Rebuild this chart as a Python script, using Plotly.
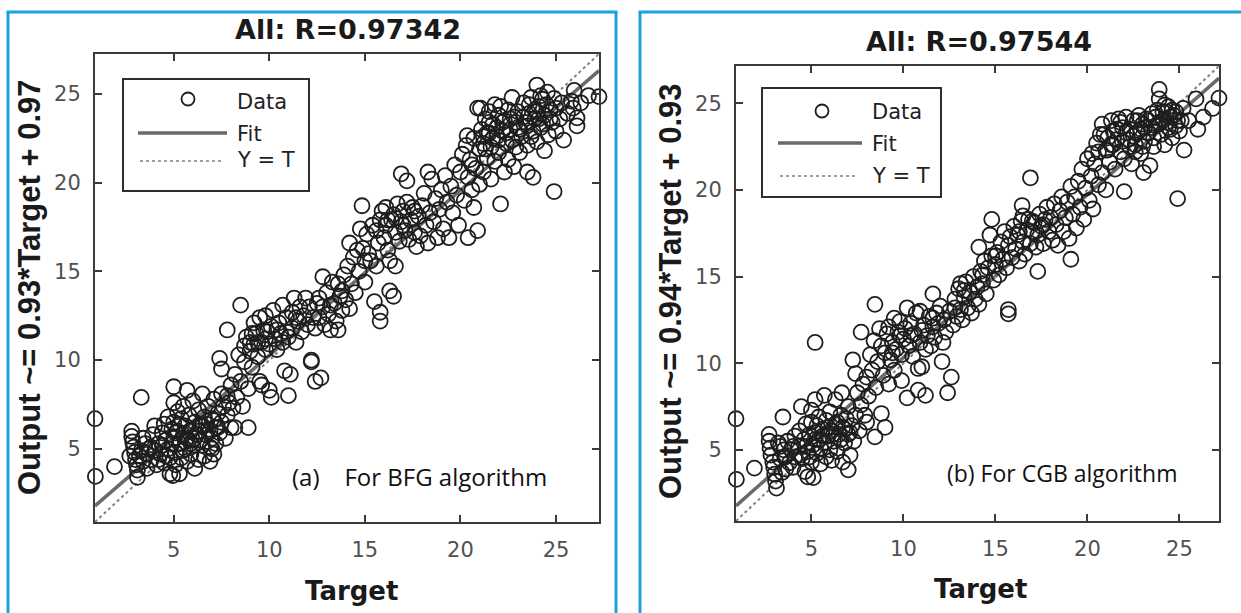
import plotly.graph_objects as go

W, H = 1241, 613

# ---------------- data ----------------
# Panel (a): BFG algorithm, (Target, Output) pairs
pairs_a = [
    (0.88, 6.7), (0.9, 3.45), (1.9, 4.0),
    (2.8, 6.0), (2.8, 5.7), (2.85, 5.4), (2.9, 5.1), (2.95, 4.8), (3.0, 4.4), (3.05, 4.1), (3.1, 3.8),
    (3.1, 3.4), (2.7, 4.6), (3.3, 7.9), (3.3, 4.9), (3.4, 4.3), (3.5, 5.3), (3.6, 4.7), (3.6, 3.9),
    (3.7, 5.0), (3.8, 4.4), (3.9, 5.8), (4.0, 6.3), (4.0, 4.9), (4.1, 4.1), (3.4, 5.6), (3.2, 4.6),
    (3.8, 5.1), (4.2, 4.4),
    (4.2, 5.3), (4.3, 4.7), (4.4, 5.9), (4.5, 6.4), (4.5, 4.2), (4.6, 5.5), (4.7, 6.8), (4.7, 5.0),
    (4.8, 3.6), (4.8, 4.5), (4.9, 6.1), (4.95, 3.5), (5.0, 8.5), (5.0, 7.6), (5.0, 6.5), (5.0, 5.6),
    (5.1, 4.8), (5.1, 4.1), (5.2, 7.1), (5.2, 6.0), (5.3, 5.3), (5.3, 3.6), (5.4, 6.7), (5.4, 4.5),
    (5.5, 7.4), (5.5, 5.8), (5.6, 5.0), (5.6, 6.3), (5.7, 8.3), (5.7, 4.3), (5.8, 5.5), (5.8, 6.9),
    (5.9, 6.0), (5.9, 4.7), (6.0, 7.7), (6.0, 5.2), (6.1, 6.5), (6.1, 3.9),
    (4.4, 5.2), (4.6, 4.6), (4.9, 5.3), (5.1, 5.9), (5.3, 6.4), (5.5, 4.9), (5.7, 5.6), (5.9, 5.3),
    (6.1, 5.6), (5.6, 5.4),
    (6.2, 5.8), (6.3, 7.2), (6.3, 4.4), (6.4, 6.3), (6.5, 8.1), (6.5, 5.2), (6.6, 6.8), (6.6, 4.6),
    (6.7, 5.8), (6.8, 7.4), (6.8, 6.1), (6.9, 5.1), (6.9, 4.3), (7.0, 6.7), (7.0, 5.6), (7.1, 7.8),
    (7.1, 4.7), (7.2, 6.2), (7.2, 5.3), (7.3, 7.0), (7.4, 10.1), (7.4, 5.9), (7.5, 9.5), (7.5, 8.1),
    (7.5, 6.5), (7.6, 7.4), (7.7, 5.6), (7.8, 11.7), (7.8, 8.0), (7.8, 6.9), (7.9, 7.6), (8.0, 8.6),
    (8.0, 6.2), (8.1, 7.3), (8.2, 9.2), (8.2, 6.2),
    (6.3, 6.0), (6.5, 6.3), (6.7, 6.4), (6.9, 6.0), (7.1, 6.6), (7.3, 6.2), (7.0, 5.0), (6.4, 5.5),
    (8.3, 7.9), (8.4, 10.3), (8.5, 13.1), (8.5, 8.8), (8.6, 7.4), (8.7, 10.8), (8.7, 9.9), (8.8, 11.3),
    (8.9, 6.2), (8.9, 8.4), (9.0, 10.5), (9.1, 11.5), (9.1, 9.6), (9.2, 12.1), (9.2, 10.9), (9.3, 11.5),
    (9.4, 10.2), (9.5, 12.4), (9.5, 8.8), (9.6, 8.6), (9.6, 11.0), (9.7, 11.7), (9.8, 10.6), (9.8, 12.5),
    (9.9, 11.6), (10.0, 10.9), (10.0, 8.3), (10.1, 11.9), (10.1, 7.9),
    (9.0, 11.0), (9.4, 11.0), (9.8, 11.2),
    (10.2, 12.8), (10.3, 11.2), (10.4, 10.6), (10.5, 12.1), (10.6, 11.5), (10.7, 13.1), (10.7, 11.0),
    (10.8, 9.4), (10.9, 12.4), (11.0, 8.0), (11.0, 11.3), (11.1, 9.2), (11.2, 11.8), (11.2, 12.7),
    (11.3, 13.5), (11.4, 11.0), (11.5, 12.2), (11.6, 13.0), (11.7, 11.6), (11.8, 12.5), (11.9, 13.5),
    (12.0, 12.0), (12.1, 13.0), (12.2, 10.0), (12.2, 9.9), (12.3, 12.4), (12.4, 8.8), (12.4, 11.8),
    (12.5, 13.2), (10.4, 11.7), (10.9, 11.6), (11.4, 12.4),
    (12.6, 12.4), (12.7, 9.0), (12.8, 14.7), (12.8, 13.0), (12.9, 12.0), (13.0, 13.8), (13.1, 12.6),
    (13.2, 11.7), (13.3, 14.4), (13.4, 13.2), (13.5, 12.2), (13.6, 14.3), (13.6, 11.7), (13.7, 13.6),
    (13.8, 12.8), (13.9, 14.8), (14.0, 13.4), (14.1, 15.3), (14.2, 16.6), (14.2, 12.9), (14.3, 14.3),
    (14.4, 15.8), (14.5, 13.8), (14.6, 16.2), (14.7, 15.0), (14.76, 17.4), (14.85, 18.7), (14.9, 16.3),
    (15.0, 14.4), (15.0, 15.6), (12.6, 13.5), (13.2, 13.1), (13.8, 13.9),
    (15.1, 17.1), (15.2, 16.0), (15.3, 15.6), (15.4, 17.6), (15.5, 13.3), (15.6, 15.3), (15.7, 16.6),
    (15.8, 12.7), (15.8, 12.2), (15.8, 17.9), (15.9, 18.4), (16.0, 16.9), (16.1, 17.6), (16.1, 18.6),
    (16.2, 16.2), (16.3, 15.6), (16.3, 13.9), (16.4, 17.9), (16.5, 13.6), (16.5, 18.2), (16.6, 15.3),
    (16.6, 17.2), (16.7, 18.8), (16.8, 16.7), (16.9, 20.5), (16.9, 17.8), (17.0, 18.4),
    (15.6, 17.3), (16.2, 17.9), (16.6, 18.0), (17.0, 17.6),
    (17.1, 17.3), (17.2, 18.9), (17.2, 20.1), (17.3, 16.8), (17.4, 17.9), (17.5, 18.6), (17.6, 17.2),
    (17.7, 16.4), (17.8, 18.1), (17.9, 17.0), (18.0, 18.7), (18.1, 19.4), (18.2, 17.6), (18.3, 20.6),
    (18.3, 16.6), (18.4, 18.3), (18.5, 20.2), (18.6, 17.8), (18.7, 19.1), (18.8, 16.9), (18.9, 18.5),
    (19.0, 19.6), (19.1, 17.4), (19.2, 20.4), (19.3, 18.9), (17.6, 18.4),
    (19.4, 16.9), (19.5, 19.8), (19.6, 18.3), (19.7, 21.0), (19.8, 19.3), (19.9, 17.6), (20.0, 20.6),
    (20.1, 21.6), (20.2, 19.0), (20.3, 22.1), (20.35, 22.65), (20.4, 16.9), (20.4, 20.3), (20.5, 21.3),
    (20.6, 19.6), (20.7, 18.6), (20.7, 22.5), (20.8, 20.8), (20.9, 17.3), (20.9, 24.2), (21.0, 21.9),
    (21.05, 24.2), (21.0, 19.9), (20.6, 21.0),
    (21.1, 23.0), (21.2, 22.2), (21.2, 20.6), (21.3, 23.6), (21.4, 21.4), (21.5, 22.8), (21.5, 24.0),
    (21.6, 20.2), (21.6, 22.0), (21.7, 23.3), (21.8, 21.2), (21.8, 24.4), (21.9, 22.6), (22.0, 23.8),
    (22.0, 21.7), (22.1, 18.8), (22.1, 24.3), (22.2, 22.9), (22.3, 20.6), (22.3, 23.5), (22.4, 22.2),
    (22.5, 24.1), (22.5, 21.3), (22.6, 23.0), (22.7, 22.4), (22.8, 23.7), (22.8, 20.9), (22.9, 22.0),
    (23.0, 24.0), (23.0, 23.1),
    (21.2, 22.6), (21.4, 22.8), (21.7, 22.5), (21.9, 23.1), (22.2, 23.4), (22.4, 22.8), (22.6, 23.6),
    (22.9, 23.4), (22.0, 22.4), (21.3, 21.9), (22.7, 24.8), (21.5, 23.4),
    (23.1, 21.7), (23.2, 22.6), (23.3, 24.5), (23.4, 23.4), (23.5, 20.6), (23.5, 22.1), (23.6, 23.9),
    (23.7, 24.8), (23.8, 20.3), (23.8, 22.9), (23.9, 23.6), (24.0, 25.5), (24.0, 22.3), (24.1, 24.3),
    (24.2, 23.1), (24.3, 24.7), (24.4, 21.8), (24.4, 23.8), (24.55, 25.1), (24.6, 22.7), (24.7, 24.1),
    (24.8, 23.4), (24.9, 24.75), (24.9, 19.5), (25.0, 22.9), (25.0, 24.2),
    (23.1, 23.0), (23.3, 23.7), (23.5, 23.2), (23.7, 22.6), (23.9, 24.1), (24.1, 23.6), (24.3, 23.3),
    (24.5, 24.4), (24.7, 23.6), (23.6, 24.4), (24.2, 24.9), (24.0, 24.0),
    (25.2, 23.6), (25.3, 24.5), (25.4, 22.4), (25.6, 23.9), (25.8, 24.6), (25.9, 24.2), (25.95, 25.2),
    (26.1, 23.65), (26.1, 23.2), (26.3, 24.5), (26.7, 24.9), (27.25, 24.85),
]

# Panel (b): CGB algorithm, (Target, Output) pairs
pairs_b = [
    (0.9, 6.8), (0.92, 3.3), (1.9, 3.95),
    (2.7, 5.9), (2.7, 5.5), (2.75, 5.1), (2.8, 4.7), (2.9, 4.3), (2.95, 4.0), (3.0, 3.6), (3.05, 3.2),
    (3.1, 2.8), (3.2, 5.4), (3.3, 4.5), (3.45, 6.9), (3.5, 5.0), (3.55, 4.6), (3.6, 3.9), (3.7, 5.5),
    (3.8, 4.25), (3.9, 5.0), (4.0, 4.0), (4.1, 5.8), (4.1, 4.6), (3.4, 3.7), (3.6, 4.6), (3.3, 5.2),
    (4.3, 5.2), (4.35, 6.1), (4.45, 7.5), (4.5, 4.5), (4.6, 5.6), (4.65, 3.75), (4.7, 6.5), (4.8, 3.45),
    (4.8, 4.9), (4.9, 5.9), (5.0, 7.3), (5.0, 6.6), (5.0, 4.3), (5.1, 3.4), (5.1, 5.3), (5.2, 11.2),
    (5.2, 7.9), (5.2, 6.0), (5.3, 4.8), (5.4, 5.6), (5.4, 6.9), (5.5, 4.2), (5.5, 5.1), (5.6, 6.2),
    (5.7, 8.15), (5.7, 5.4), (5.8, 4.6), (5.8, 6.7), (5.9, 5.8), (6.0, 5.0), (6.0, 7.2), (6.1, 6.1),
    (6.1, 4.4),
    (4.0, 5.2), (4.4, 4.7), (4.7, 5.2), (4.9, 4.6), (5.2, 5.6), (5.3, 6.4), (5.6, 5.8), (5.9, 6.3),
    (6.2, 5.5), (6.3, 7.9), (6.3, 6.5), (6.4, 4.9), (6.5, 5.9), (6.6, 7.0), (6.65, 8.3), (6.7, 6.3),
    (6.7, 4.3), (6.8, 5.4), (6.9, 6.8), (7.0, 3.85), (7.0, 5.9), (7.0, 7.5), (7.1, 4.7), (7.2, 6.4),
    (7.25, 10.2), (7.3, 5.5), (7.4, 9.4), (7.4, 7.0), (7.5, 8.3), (7.6, 6.1), (7.7, 11.8), (7.7, 7.6),
    (7.8, 8.8), (7.9, 7.0), (8.0, 9.2), (8.0, 6.6), (8.1, 8.1), (8.2, 10.5),
    (6.2, 5.9), (6.4, 6.6), (6.6, 5.6), (6.8, 6.2), (7.1, 6.0),
    (8.3, 9.6), (8.4, 11.3), (8.45, 13.4), (8.45, 5.75), (8.5, 8.6), (8.6, 10.1), (8.7, 12.0),
    (8.8, 7.1), (8.8, 11.0), (8.9, 9.3), (9.0, 6.3), (9.0, 10.6), (9.1, 11.7), (9.2, 12.1), (9.2, 8.8),
    (9.3, 10.2), (9.4, 11.2), (9.5, 12.6), (9.5, 9.6), (9.6, 10.8), (9.7, 11.8), (9.8, 12.4),
    (9.9, 9.0), (9.9, 10.5), (10.0, 11.4), (10.1, 12.0), (10.2, 8.0), (10.2, 13.2),
    (9.4, 10.6), (9.8, 11.6),
    (10.3, 11.0), (10.4, 12.3), (10.5, 10.4), (10.6, 11.7), (10.7, 12.9), (10.8, 8.45), (10.8, 9.7),
    (10.9, 11.2), (10.9, 13.0), (11.0, 9.8), (11.1, 12.2), (11.2, 8.15), (11.2, 10.8), (11.3, 11.6),
    (11.4, 12.7), (11.5, 11.0), (11.6, 14.0), (11.6, 12.1), (11.7, 11.5), (11.8, 12.9), (11.9, 12.3),
    (12.0, 13.3), (12.1, 10.1), (12.15, 11.2), (12.2, 12.5), (12.3, 11.8), (12.4, 8.3), (12.5, 13.0),
    (10.4, 11.6), (11.0, 11.9), (11.6, 12.6),
    (12.6, 9.2), (12.7, 12.2), (12.8, 13.7), (12.9, 12.7), (13.0, 14.3), (13.1, 14.6), (13.1, 13.1),
    (13.2, 12.5), (13.3, 13.8), (13.4, 14.7), (13.5, 13.2), (13.6, 14.1), (13.7, 12.9), (13.8, 15.0),
    (13.9, 13.7), (14.0, 14.4), (14.1, 16.7), (14.1, 13.4), (14.2, 15.3), (14.3, 14.6), (14.4, 15.9),
    (14.5, 14.0), (14.6, 15.5), (14.7, 17.4), (14.8, 18.3), (14.8, 16.2), (14.9, 14.8), (15.0, 15.7),
    (12.8, 13.2), (13.3, 14.2), (14.3, 15.1), (15.0, 16.2),
    (15.1, 16.4), (15.2, 15.1), (15.3, 17.0), (15.4, 16.0), (15.5, 17.6), (15.6, 15.5), (15.7, 13.1),
    (15.7, 12.85), (15.7, 16.8), (15.8, 17.3), (15.9, 16.1), (16.0, 17.9), (16.1, 16.6), (16.2, 17.4),
    (16.3, 15.9), (16.4, 18.2), (16.45, 19.1), (16.5, 18.5), (16.5, 17.0), (16.6, 16.3), (16.7, 17.7),
    (16.8, 18.3), (16.9, 20.7), (16.9, 16.9), (17.0, 17.6), (16.3, 17.6), (17.0, 18.2),
    (17.1, 18.1), (17.2, 16.7), (17.3, 15.3), (17.3, 17.4), (17.4, 18.6), (17.5, 17.9), (17.6, 16.9),
    (17.7, 18.3), (17.8, 19.0), (17.9, 17.6), (18.0, 18.4), (18.1, 17.1), (18.2, 19.2), (18.3, 18.0),
    (18.4, 16.8), (18.5, 18.8), (18.6, 19.6), (18.7, 17.6), (18.8, 18.4), (18.9, 19.3), (19.0, 17.2),
    (19.1, 16.0), (19.1, 20.2), (17.6, 18.0),
    (19.2, 18.6), (19.3, 19.6), (19.4, 17.8), (19.5, 20.5), (19.6, 19.0), (19.7, 21.2), (19.8, 18.3),
    (19.9, 20.1), (20.0, 21.8), (20.1, 19.4), (20.2, 20.8), (20.25, 22.1), (20.3, 18.9), (20.4, 21.5),
    (20.5, 22.7), (20.6, 20.3), (20.7, 23.2), (20.8, 23.8), (20.8, 21.0), (20.9, 23.2), (21.0, 22.3),
    (21.0, 20.0), (20.6, 22.2),
    (21.1, 23.0), (21.2, 21.6), (21.3, 22.6), (21.3, 24.0), (21.4, 23.4), (21.5, 21.2), (21.6, 22.9),
    (21.7, 24.1), (21.8, 22.2), (21.9, 23.6), (22.0, 19.9), (22.0, 21.8), (22.1, 24.2), (22.2, 22.9),
    (22.3, 23.5), (22.4, 21.5), (22.5, 24.0), (22.6, 22.6), (22.7, 23.3), (22.8, 24.3), (22.9, 22.1),
    (23.0, 23.8), (23.05, 21.0),
    (21.1, 22.3), (21.4, 22.6), (21.6, 23.5), (21.9, 22.8), (22.1, 23.3), (22.3, 22.5), (22.5, 23.1),
    (22.7, 24.0), (22.9, 23.5), (22.6, 22.2), (21.8, 23.9), (23.0, 22.5),
    (23.1, 22.8), (23.2, 24.1), (23.3, 23.3), (23.4, 21.4), (23.5, 24.4), (23.6, 22.5), (23.7, 23.7),
    (23.8, 24.6), (23.9, 25.8), (23.9, 25.25), (24.0, 23.2), (24.1, 24.0), (24.2, 22.6), (24.3, 24.5),
    (24.4, 23.6), (24.5, 24.2), (24.6, 23.0), (24.7, 24.3), (24.8, 23.7), (24.9, 19.5), (24.9, 24.0),
    (25.0, 23.4),
    (23.1, 23.6), (23.3, 24.0), (23.5, 23.6), (23.7, 24.2), (23.9, 23.9), (24.1, 24.5), (24.3, 23.9),
    (24.5, 23.5), (24.6, 24.6), (24.2, 24.9), (23.6, 23.0), (24.8, 24.5), (24.4, 24.8),
    (25.1, 24.0), (25.2, 24.7), (25.25, 22.3), (25.5, 24.0), (25.9, 25.25), (26.0, 23.5), (26.3, 24.2),
    (26.8, 24.7), (27.15, 25.3),
]

target_a = [p[0] for p in pairs_a]
output_a = [p[1] for p in pairs_a]
target_b = [p[0] for p in pairs_b]
output_b = [p[1] for p in pairs_b]

fit_a = (0.93, 0.97)   # slope, intercept
fit_b = (0.94, 0.93)
titles = ["All: R=0.97342", "All: R=0.97544"]
ylabels = ["Output ~= 0.93*Target + 0.97", "Output ~= 0.94*Target + 0.93"]
notes = ["(a)\u00a0\u00a0\u00a0\u00a0For BFG algorithm", "(b) For CGB algorithm"]
tick_vals = [5, 10, 15, 20, 25]
legend_labels = ["Data", "Fit", "Y = T"]

# ---------------- layout helpers (pixels -> paper) ----------------
def PX(x):
    return x / W


def PY(y):
    return 1 - y / H


panels = [
    dict(t=target_a, o=output_a, fit=fit_a, title=titles[0], ylabel=ylabels[0], note=notes[0],
         xdom=[PX(95), PX(599)], ydom=[PY(522), PY(54)],
         title_xy=(348, 30), xlabel_xy=(351, 591), ylabel_xy=(30, 287),
         note_xy=(290, 476), note_size=24,
         box=(123, 79, 309, 191), circ=(188, 99), fitl=(138, 227, 133), dotl=(140, 222, 161), textx=235,
         texty=(102, 134, 160),
         border=(8, 12, 616)),
    dict(t=target_b, o=output_b, fit=fit_b, title=titles[1], ylabel=ylabels[1], note=notes[1],
         xdom=[PX(736), PX(1219)], ydom=[PY(521), PY(66)],
         title_xy=(979, 41), xlabel_xy=(980, 589), ylabel_xy=(670, 291),
         note_xy=(945, 473), note_size=23,
         box=(762, 88, 941, 197), circ=(822, 111), fitl=(778, 862, 143), dotl=(780, 858, 176), textx=870,
         texty=(112, 144, 176),
         border=(640, 12, 1260)),
]

fig = go.Figure()
shapes = []
annotations = []
tick_font = dict(family="DejaVu Sans", size=21, color="#505050")

for i, p in enumerate(panels):
    sfx = "" if i == 0 else "2"
    xa, ya = "x" + sfx, "y" + sfx
    lo, hi = min(p["t"]), max(p["t"])
    m, b = p["fit"]
    # Fit line
    fig.add_trace(go.Scatter(x=[lo, hi], y=[m * lo + b, m * hi + b], mode="lines",
                             line=dict(color="#6a6a6a", width=3.5), xaxis=xa, yaxis=ya,
                             showlegend=False, hoverinfo="skip"))
    # Y = T line
    fig.add_trace(go.Scatter(x=[lo, hi], y=[lo, hi], mode="lines",
                             line=dict(color="#808080", width=2, dash="dot"), xaxis=xa, yaxis=ya,
                             showlegend=False, hoverinfo="skip"))
    # Data
    fig.add_trace(go.Scatter(x=p["t"], y=p["o"], mode="markers",
                             marker=dict(symbol="circle-open", size=15, color="#1e1e1e",
                                         line=dict(width=1.8)),
                             cliponaxis=False, xaxis=xa, yaxis=ya, showlegend=False))

    axis_common = dict(showline=True, linecolor="#3a3a3a", linewidth=2, mirror="allticks",
                       ticks="inside", ticklen=7, tickwidth=1.5, tickcolor="#3a3a3a",
                       showgrid=False, zeroline=False, tickvals=tick_vals,
                       tickfont=tick_font, range=[lo, hi])
    fig.update_layout(**{
        "xaxis" + sfx: dict(domain=p["xdom"], anchor=ya, ticklabelstandoff=8, **axis_common),
        "yaxis" + sfx: dict(domain=p["ydom"], anchor=xa, ticklabelstandoff=8, **axis_common),
    })

    # Titles
    annotations.append(dict(text=p["title"], x=PX(p["title_xy"][0]), y=PY(p["title_xy"][1]),
                            xref="paper", yref="paper", showarrow=False, xanchor="center", yanchor="middle",
                            font=dict(family="DejaVu Sans", size=27, color="#1a1a1a", weight="bold")))
    annotations.append(dict(text="Target", x=PX(p["xlabel_xy"][0]), y=PY(p["xlabel_xy"][1]),
                            xref="paper", yref="paper", showarrow=False, xanchor="center", yanchor="middle",
                            font=dict(family="DejaVu Sans", size=26, color="#1a1a1a", weight="bold")))
    annotations.append(dict(text=p["ylabel"], x=PX(p["ylabel_xy"][0]), y=PY(p["ylabel_xy"][1]),
                            xref="paper", yref="paper", showarrow=False, xanchor="center", yanchor="middle",
                            textangle=-90,
                            font=dict(family="Liberation Sans", size=31, color="#1a1a1a", weight="bold")))
    annotations.append(dict(text=p["note"], x=PX(p["note_xy"][0]), y=PY(p["note_xy"][1]),
                            xref="paper", yref="paper", showarrow=False, xanchor="left", yanchor="middle",
                            font=dict(family="Open Sans", size=p["note_size"], color="#111111")))

    # Legend (MATLAB style box)
    bx0, by0, bx1, by1 = p["box"]
    shapes.append(dict(type="rect", xref="paper", yref="paper", x0=PX(bx0), x1=PX(bx1), y0=PY(by1), y1=PY(by0),
                       line=dict(color="#2e2e2e", width=2), fillcolor="white", layer="above"))
    cx, cy = p["circ"]
    r = 6.5
    shapes.append(dict(type="circle", xref="paper", yref="paper", x0=PX(cx - r), x1=PX(cx + r),
                       y0=PY(cy + r), y1=PY(cy - r), line=dict(color="#1e1e1e", width=1.8)))
    fx0, fx1, fy = p["fitl"]
    shapes.append(dict(type="line", xref="paper", yref="paper", x0=PX(fx0), x1=PX(fx1), y0=PY(fy), y1=PY(fy),
                       line=dict(color="#6a6a6a", width=3.5)))
    dx0, dx1, dy = p["dotl"]
    shapes.append(dict(type="line", xref="paper", yref="paper", x0=PX(dx0), x1=PX(dx1), y0=PY(dy), y1=PY(dy),
                       line=dict(color="#808080", width=1.6, dash="dot")))
    for lab, ty in zip(legend_labels, p["texty"]):
        annotations.append(dict(text=lab, x=PX(p["textx"]), y=PY(ty), xref="paper", yref="paper",
                                showarrow=False, xanchor="left", yanchor="middle",
                                font=dict(family="DejaVu Sans", size=21, color="#222222")))

    # light-blue frame around the panel
    ex0, ey0, ex1 = p["border"]
    shapes.append(dict(type="rect", xref="paper", yref="paper", x0=PX(ex0), x1=PX(ex1), y0=-0.05, y1=PY(ey0),
                       line=dict(color="#1aa3df", width=3), fillcolor="rgba(0,0,0,0)", layer="above"))

fig.update_layout(width=W, height=H, margin=dict(l=0, r=0, t=0, b=0),
                  paper_bgcolor="white", plot_bgcolor="white",
                  shapes=shapes, annotations=annotations, showlegend=False)

fig.write_html("out.html", config={"displayModeBar": False},
               post_script="document.body.style.margin='0';document.body.style.overflow='hidden';")
